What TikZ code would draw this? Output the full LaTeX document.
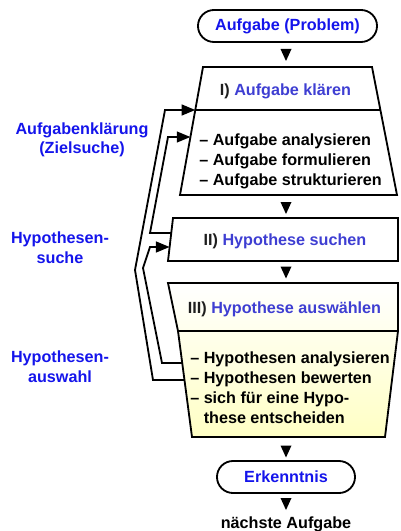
\documentclass[tikz,border=0pt]{standalone}
\usepackage{fontspec}
\setmainfont{Liberation Sans}
\usetikzlibrary{arrows.meta,shapes.misc}
\definecolor{brightblue}{RGB}{20,20,235}
\definecolor{stepblue}{RGB}{62,62,210}
\definecolor{romgray}{RGB}{30,30,30}
\definecolor{paleyellow}{RGB}{255,255,196}
\tikzset{
  >={Triangle[length=3.4mm,width=2.7mm]},
  txt/.style={font=\fontsize{11.5}{14.1}\selectfont\bfseries,inner sep=0pt},
  pill/.style={txt,draw,line width=1.3pt,rounded rectangle,minimum height=8mm,text=brightblue},
  frame/.style={draw,line width=1.3pt,line join=miter},
  loop/.style={->,line width=1.3pt},
  side/.style={txt,text=brightblue,align=center},
  head/.style={txt,text=stepblue},
  % flow triangle
  pics/down/.style={code={
    \fill (-5.5,-6) -- (5.5,-6) -- (0,6) -- cycle;
  }},
}
\begin{document}
\begin{tikzpicture}[x=0.025cm,y=-0.025cm]
    \useasboundingbox (0,0) rectangle (400,531);
    % boxes
    \draw[frame] (203,67) -- (372,67) -- (397,195) -- (180,195) -- cycle;
    \draw[frame] (195.3,110) -- (380.4,110);
    \draw[frame] (173,218) -- (398,218) -- (398,261) -- (168,261) -- cycle;
    \shade[top color=white,bottom color=paleyellow] (168,283) -- (398,283) -- (398,331) -- (385,437) -- (192,437) -- (178,331) -- cycle;
    \draw[frame] (168,283) -- (398,283) -- (398,331) -- (385,437) -- (192,437) -- (178,331) -- cycle;
    \draw[frame] (178,331) -- (398,331);
    \coordinate (in1) at (195.3,110);
    \coordinate (in2) at (190.4,137);
    \coordinate (in3) at (169.6,247);
    \coordinate (out2) at (171.3,233);
    \coordinate (out3) at (182.2,363);
    \coordinate (out1) at (184.5,380);
    % texts
    \node[pill,minimum width=4.475cm] (prob) at (287.5,26) {Aufgabe (Problem)};
    \node[head,anchor=base] (h1) at (285.5,96) {\textcolor{romgray}{I)} Aufgabe klären};
    \node[txt,anchor=base west,align=left] (l1) at (199,185.5) {– Aufgabe analysieren\\– Aufgabe formulieren\\– Aufgabe strukturieren};
    \node[head,anchor=base] (h2) at (285,245) {\textcolor{romgray}{II)} Hypothese suchen};
    \node[head,anchor=base] (h3) at (284.5,313) {\textcolor{romgray}{III)} Hypothese auswählen};
    \node[txt,anchor=base west,align=left] (l3) at (190,423) {– Hypothesen analysieren\\– Hypothesen bewerten\\– sich für eine Hypo-\\\phantom{– }these entscheiden};
    \node[pill,minimum width=3.45cm] (erk) at (286,477) {Erkenntnis};
    \node[txt,anchor=base] (next) at (286,528) {nächste Aufgabe};
    \node[side,anchor=base] (zs) at (82,154) {Aufgabenklärung\\(Zielsuche)};
    \node[side,anchor=base] (hs) at (60,263) {Hypothesen-\\suche};
    \node[side,anchor=base] (ha) at (60,382) {Hypothesen-\\auswahl};
    % flow
    \foreach \y in {55,208,272.5,451.5,504} \pic at (286,\y) {down};
    % feedback
    \draw[loop] (out1) -- (153,380) -- (135,270) -- (165,110) -- (in1);
    \draw[loop] (out2) -- (150,233) -- (168,137) -- (in2);
    \draw[loop] (out3) -- (162,363) -- (143,268) -- (150,247) -- (in3);
\end{tikzpicture}
\end{document}
